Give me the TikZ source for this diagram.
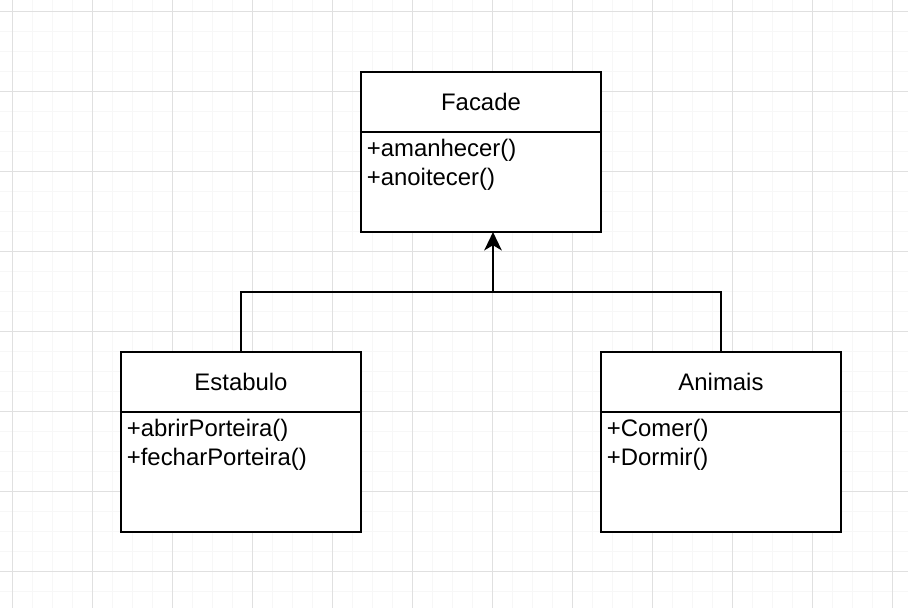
\documentclass[tikz,border=0pt]{standalone}
\usepackage{fontspec}
\setmainfont{Liberation Sans}
\usetikzlibrary{arrows.meta,calc,positioning}
\definecolor{SheetInk}{HTML}{000000}
\definecolor{GridMinor}{HTML}{F7F7F7}
\definecolor{GridMajor}{HTML}{E0E0E0}
\tikzset{
  every node/.style={font=\fontsize{17}{20.2}\selectfont, text=SheetInk},
  classhead/.style={draw=SheetInk, line width=1.4pt, fill=white, minimum width=6cm, minimum height=1.5cm, inner sep=0pt, outer sep=0pt},
  classbody/.style={draw=SheetInk, line width=1.4pt, fill=white, minimum width=6cm, inner sep=0pt, outer sep=0pt},
  members/.style={anchor=north west, align=left, inner xsep=4pt, inner ysep=5pt},
  minorgrid/.style={draw=GridMinor, line width=0.7pt},
  majorgrid/.style={draw=GridMajor, line width=0.7pt},
  assoc/.style={draw=SheetInk, line width=1.4pt},
  inherit/.style={-{Stealth[length=4.6mm,width=4.4mm,inset=1.3mm]}, draw=SheetInk, line width=1.4pt},
}
\begin{document}
\begin{tikzpicture}[x=0.025cm,y=-0.025cm]
  % Sheet and grid
  \useasboundingbox[fill=white] (0,0) rectangle (908,608);
  \foreach \gx in {12,32,...,908} \draw[minorgrid] (\gx,0) -- (\gx,608);
  \foreach \gy in {11,31,...,608} \draw[minorgrid] (0,\gy) -- (908,\gy);
  \foreach \gx in {12,92,...,908} \draw[majorgrid] (\gx,0) -- (\gx,608);
  \foreach \gy in {11,91,...,608} \draw[majorgrid] (0,\gy) -- (908,\gy);

  % Facade class
  \node[classhead] (facade) at (481,102) {Facade};
  \node[classbody, minimum height=2.5cm, below=0pt of facade] (facadebody) {};
  \node[members] (facadeops) at (facadebody.north west) {+amanhecer()\\+anoitecer()};

  % Estabulo class
  \node[classhead] (estabulo) at (241,382) {Estabulo};
  \node[classbody, minimum height=3cm, below=0pt of estabulo] (estabulobody) {};
  \node[members] (estabuloops) at (estabulobody.north west) {+abrirPorteira()\\+fecharPorteira()};

  % Animais class
  \node[classhead] (animais) at (721,382) {Animais};
  \node[classbody, minimum height=3cm, below=0pt of animais] (animaisbody) {};
  \node[members] (animaisops) at (animaisbody.north west) {+Comer()\\+Dormir()};

  % Generalisation tree
  \coordinate (junction) at (493,292);
  \draw[assoc] (estabulo.north) |- (junction) -| (animais.north);
  \draw[inherit] (junction) -- (facadebody.south -| junction);
\end{tikzpicture}
\end{document}
